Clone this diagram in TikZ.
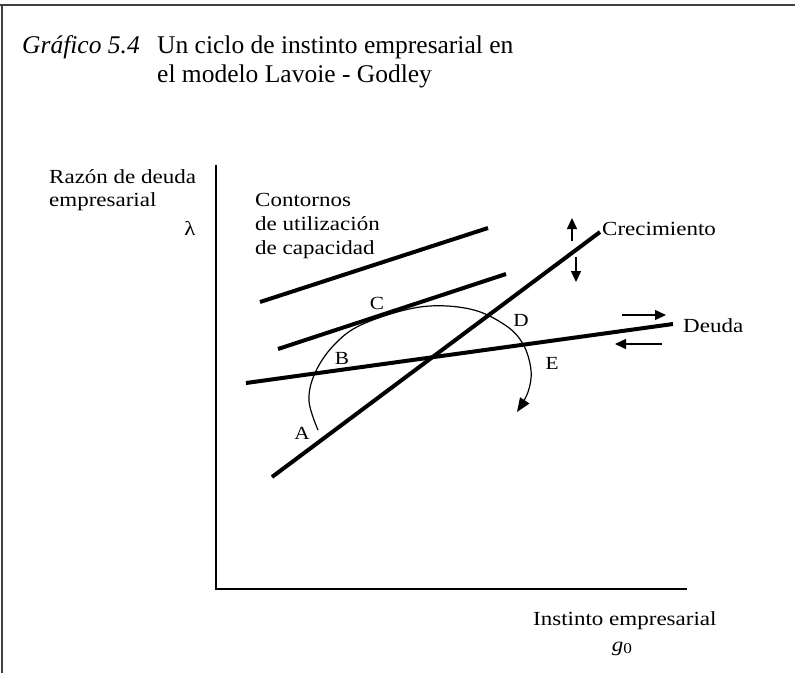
\documentclass[tikz,border=0pt]{standalone}
\usepackage{fontspec}
\setmainfont{Liberation Serif}[FakeStretch=1.15]
\newfontfamily\titlefont{Liberation Serif}
\usetikzlibrary{arrows.meta}
\begin{document}
\begin{tikzpicture}[x=1pt,y=-1pt,
  lbl/.style={inner sep=0pt,font=\fontsize{20}{24}\selectfont},
  ttl/.style={inner sep=0pt,font=\titlefont\fontsize{25.5}{30}\selectfont},
  pt/.style={inner sep=0pt,font=\fontsize{18.5}{22}\selectfont},
  curve/.style={line width=4pt},
  axis/.style={line width=2.4pt},
  frame/.style={line width=1.6pt,black!75},
  shiftarr/.style={line width=1.4pt,-{Triangle[length=11pt,width=10pt]}},
  cyc/.style={line width=1.2pt}]
\useasboundingbox (0,0) rectangle (795,673);
% frame
\draw[frame] (0,5) -- (795,5);
\draw[frame] (2,5) -- (2,673);
% title
\node[ttl,anchor=base west] (t1) at (22,53) {\itshape Gráfico 5.4};
\node[ttl,anchor=base west] (t2) at (157,53) {Un ciclo de instinto empresarial en};
\node[ttl,anchor=base west] (t3) at (157,82) {el modelo Lavoie - Godley};
% axes
\coordinate (ytop) at (216,165);
\coordinate (orig) at (216,589);
\coordinate (xend) at (687,589);
\draw[axis] (ytop) -- (orig) -- (xend);
% axis labels
\node[lbl,anchor=base west] (yl1) at (49,183) {Razón de deuda};
\node[lbl,anchor=base west] (yl2) at (49,206) {empresarial};
\node[lbl] (lam) at (190,228) {λ};
\node[lbl,anchor=base west] (xl1) at (533,625) {Instinto empresarial};
\node[lbl,anchor=base] (xl2) at (622,651) {\itshape g\raisebox{-0.3ex}{\upshape\fontsize{15}{17}\selectfont 0}};
% contour text
\node[lbl,anchor=base west] (c1) at (255,206) {Contornos};
\node[lbl,anchor=base west] (c2) at (255,230) {de utilización};
\node[lbl,anchor=base west] (c3) at (255,254) {de capacidad};
% lines
\coordinate (u1a) at (260,302); \coordinate (u1b) at (488,228);
\coordinate (u2a) at (278,349); \coordinate (u2b) at (506,274);
\coordinate (da) at (246,383); \coordinate (db) at (673,324);
\coordinate (ga) at (272,477); \coordinate (gb) at (600,232);
\draw[curve] (u1a) -- (u1b);
\draw[curve] (u2a) -- (u2b);
\draw[curve] (da) -- (db);
\draw[curve] (ga) -- (gb);
\node[lbl,anchor=west] (crec) at (602,229) {Crecimiento};
\node[lbl,anchor=west] (deu) at (683,326) {Deuda};
% shift arrows
\coordinate (ua) at (572,241); \coordinate (ub) at (572,218);
\coordinate (va) at (576,257); \coordinate (vb) at (576,282);
\coordinate (ra) at (622,315); \coordinate (rb) at (666,315);
\coordinate (la) at (662,344); \coordinate (lb) at (615,344);
\draw[shiftarr] (ua) -- (ub);
\draw[shiftarr] (va) -- (vb);
\draw[shiftarr] (ra) -- (rb);
\draw[shiftarr] (la) -- (lb);
% cycle
\draw[cyc,-{Triangle[length=14pt,width=11pt]}] plot[smooth,tension=0.6] coordinates {(318,430) (309,401) (315,373) (334,345) (363,324) (420,307) (470,309) (505,325) (523,344) (531,370) (528,392) (517,412)};
% points
\node[pt] (A) at (302,433) {A};
\node[pt] (B) at (342,358) {B};
\node[pt] (C) at (377,303) {C};
\node[pt] (D) at (521,320) {D};
\node[pt] (E) at (552,363) {E};
\end{tikzpicture}
\end{document}
